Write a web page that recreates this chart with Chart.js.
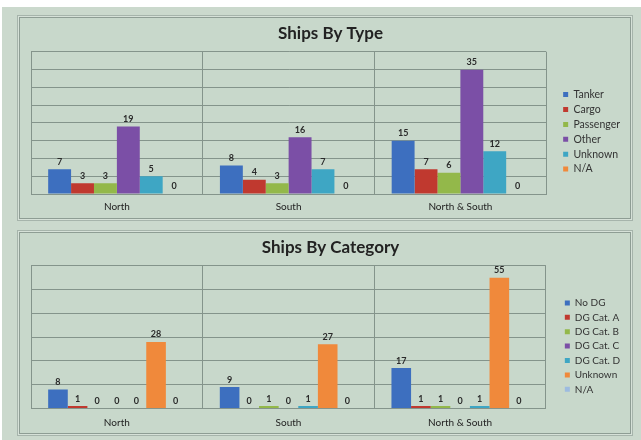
<!DOCTYPE html>
<html><head><meta charset="utf-8">
<script src="https://cdn.jsdelivr.net/npm/chart.js@4/dist/chart.umd.min.js"></script>
<style>
html,body{margin:0;padding:0;background:#fff;width:641px;height:440px;overflow:hidden;}
#bg{position:absolute;left:2px;top:7px;width:639px;height:433px;background:#cbd9cd;}
.panel{position:absolute;left:19px;width:610px;height:200px;border:1px solid #8e9d94;background:#c8d8cb;box-shadow:0 0 0 1px #d6e1d8,0 0 0 2px #a6b4ab;}
#p1{top:17px;}
#p2{top:232px;}
canvas{position:absolute;left:0;top:0;}
</style></head>
<body>
<div id="bg"></div>
<div class="panel" id="p1"><canvas id="c1" width="610" height="200"></canvas></div>
<div class="panel" id="p2"><canvas id="c2" width="610" height="200"></canvas></div>
<script>
// ---- data ----
const regions = ['North', 'South', 'North & South'];
const typeNames = ['Tanker', 'Cargo', 'Passenger', 'Other', 'Unknown', 'N/A'];
const tanker = [7, 8, 15];
const cargo = [3, 4, 7];
const passenger = [3, 3, 6];
const otherType = [19, 16, 35];
const unknownType = [5, 7, 12];
const naType = [0, 0, 0];

const categoryNames = ['No DG', 'DG Cat. A', 'DG Cat. B', 'DG Cat. C', 'DG Cat. D', 'Unknown', 'N/A'];
const noDG = [8, 9, 17];
const dgCatA = [1, 0, 1];
const dgCatB = [0, 1, 1];
const dgCatC = [0, 0, 0];
const dgCatD = [0, 1, 1];
const unknownCat = [28, 27, 55];
const naCat = [0, 0, 0];

const typeColors = ['#3d6fbf', '#c0392f', '#93b84a', '#7b4fa6', '#3ea6c4', '#f0893b'];
const catColors = ['#3d6fbf', '#c0392f', '#93b84a', '#7b4fa6', '#3ea6c4', '#f0893b', '#9dbbe0'];

const FONT = 'Lato';
const GRID = '#84948b';

const valueLabels = {
  id: 'valueLabels',
  afterDatasetsDraw(chart) {
    const ctx = chart.ctx;
    ctx.save();
    ctx.font = 'bold 9px ' + FONT;
    ctx.fillStyle = '#2a2a2a';
    ctx.textAlign = 'center';
    ctx.textBaseline = 'bottom';
    chart.data.datasets.forEach((ds, i) => {
      chart.getDatasetMeta(i).data.forEach((bar, j) => {
        ctx.fillText(String(ds.data[j]), bar.x, bar.y - 3);
      });
    });
    ctx.restore();
  }
};

function makeChart(id, title, names, series, colors, yMax, yStep, cfg) {
  return new Chart(document.getElementById(id), {
    type: 'bar',
    data: {
      labels: regions,
      datasets: series.map((d, i) => ({
        label: names[i], data: d, backgroundColor: colors[i],
        borderWidth: 0, categoryPercentage: 0.8, barPercentage: 1
      }))
    },
    options: {
      responsive: false, animation: false, events: [],
      layout: { padding: { left: 11, right: cfg.padRight, top: 0, bottom: cfg.padBottom } },
      plugins: {
        title: { display: true, text: title, color: '#222',
          font: { family: FONT, size: 17, weight: 'bold' }, padding: { top: cfg.titleTop, bottom: cfg.titleBottom } },
        legend: { position: 'right', align: 'center', fullSize: false,
          title: { display: true, text: '', font: { size: 9 }, padding: { top: 0, bottom: 7 } },
          labels: { boxWidth: 5, boxHeight: 5, padding: 4.4, color: '#333',
            font: { family: FONT, size: cfg.legendSize } } },
        tooltip: { enabled: false }
      },
      scales: {
        x: { grid: { color: GRID, drawTicks: false }, border: { color: GRID },
          ticks: { color: '#222', font: { family: FONT, size: 10 }, padding: cfg.tickPad } },
        y: { min: 0, max: yMax, ticks: { display: false, stepSize: yStep },
          grid: { color: GRID, drawTicks: false }, border: { color: GRID } },
        y2: { position: 'right', display: true, grid: { display: false }, border: { display: false },
          ticks: { display: false }, afterFit(s) { s.width = cfg.gap; } }
      }
    },
    plugins: [valueLabels]
  });
}

makeChart('c1', 'Ships By Type', typeNames,
  [tanker, cargo, passenger, otherType, unknownType, naType], typeColors, 40, 5,
  { padRight: 0, padBottom: -2, tickPad: 7, titleTop: 5, titleBottom: 8.5, legendSize: 10.5, gap: 12.5 });
makeChart('c2', 'Ships By Category', categoryNames,
  [noDG, dgCatA, dgCatB, dgCatC, dgCatD, unknownCat, naCat], catColors, 60, 10,
  { padRight: 0, padBottom: -3.5, tickPad: 8, titleTop: 4, titleBottom: 8.5, legendSize: 10, gap: 14.5 });
</script>
</body></html>
